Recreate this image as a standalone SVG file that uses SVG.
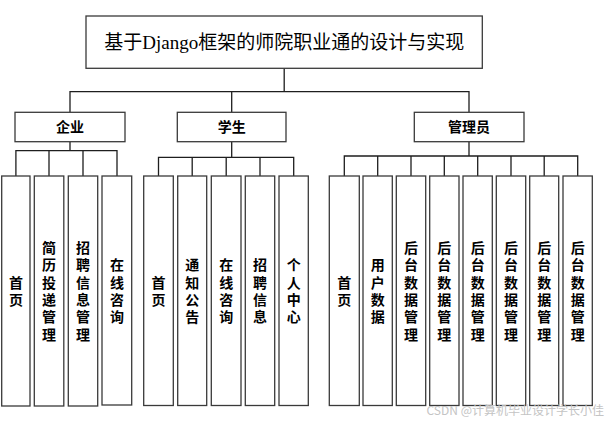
<svg xmlns="http://www.w3.org/2000/svg" width="609" height="423" viewBox="0 0 609 423">
<style>
  .box { fill: #ffffff; stroke: #3a3a3a; stroke-width: 1.3; }
  .conn { fill: none; stroke: #1e1e1e; stroke-width: 1.3; }
  .title { font-family: "Liberation Serif", "Noto Sans CJK SC", serif; font-size: 19px; fill: #000; text-anchor: middle; dominant-baseline: central; }
  .l2 { font-family: "Liberation Serif", "Noto Sans CJK SC", serif; font-size: 14px; font-weight: bold; fill: #000; text-anchor: middle; dominant-baseline: central; }
  .leaf { font-family: "Noto Sans CJK SC", sans-serif; font-size: 14px; font-weight: bold; fill: #000; text-anchor: middle; writing-mode: vertical-rl; letter-spacing: 3.3px; }
  .wm { font-family: "Noto Sans CJK SC", sans-serif; font-size: 12px; fill: #c4c4c4; text-anchor: end; }
</style>
<rect width="609" height="423" fill="#ffffff"/>

<g id="connectors">
  <path class="conn" d="M284.2 68.3 V91.7 M70 112.3 V91.7 H469 V112.3 M231.7 91.7 V112.3"/>
  <path class="conn" d="M70 141.7 V150.7 M15.9 176 V150.7 H117 V176 M49 150.7 V176 M83 150.7 V176"/>
  <path class="conn" d="M231.7 141.7 V157.3 M158.5 176 V157.3 H293.7 V176 M192.2 157.3 V176 M226.2 157.3 V176 M260 157.3 V176"/>
  <path class="conn" d="M469 141.7 V156 M344.3 176 V156 H577.7 V176 M377.7 156 V176 M411 156 V176 M444.3 156 V176 M477.7 156 V176 M511 156 V176 M544.2 156 V176"/>
</g>

<g id="root">
  <rect class="box" x="86" y="16" width="396.3" height="52.3"/>
  <text class="title" x="284.2" y="42.2">基于Django框架的师院职业通的设计与实现</text>
</g>

<g id="qiye">
  <rect class="box" x="15" y="112.3" width="110" height="29.4"/>
  <text class="l2" x="70" y="127">企业</text>
</g>
<g id="xuesheng">
  <rect class="box" x="177.3" y="112.3" width="108.7" height="29.4"/>
  <text class="l2" x="231.7" y="127">学生</text>
</g>
<g id="guanliyuan">
  <rect class="box" x="414.3" y="112.3" width="109.7" height="29.4"/>
  <text class="l2" x="469" y="127">管理员</text>
</g>

<!-- 企业 leaves -->
<g id="qy-shouye">
  <rect class="box" x="1.7" y="176" width="28.3" height="230"/>
  <text class="leaf" x="15.9" y="292.6">首页</text>
</g>
<g id="qy-jianli">
  <rect class="box" x="34.3" y="176" width="29.5" height="230"/>
  <text class="leaf" x="49" y="292.6">简历投递管理</text>
</g>
<g id="qy-zhaopin">
  <rect class="box" x="68.3" y="176" width="29.4" height="230"/>
  <text class="leaf" x="83" y="292.6">招聘信息管理</text>
</g>
<g id="qy-zixun">
  <rect class="box" x="102" y="176" width="29.7" height="229"/>
  <text class="leaf" x="117" y="292.6">在线咨询</text>
</g>

<!-- 学生 leaves -->
<g id="xs-shouye">
  <rect class="box" x="143.7" y="176" width="29.6" height="229.5"/>
  <text class="leaf" x="158.5" y="292.6">首页</text>
</g>
<g id="xs-tongzhi">
  <rect class="box" x="177.7" y="176" width="29" height="229.5"/>
  <text class="leaf" x="192.2" y="292.6">通知公告</text>
</g>
<g id="xs-zixun">
  <rect class="box" x="211.3" y="176" width="29.7" height="229.5"/>
  <text class="leaf" x="226.2" y="292.6">在线咨询</text>
</g>
<g id="xs-zhaopin">
  <rect class="box" x="245.3" y="176" width="29.4" height="229.5"/>
  <text class="leaf" x="260" y="292.6">招聘信息</text>
</g>
<g id="xs-geren">
  <rect class="box" x="279" y="176" width="29.3" height="229.5"/>
  <text class="leaf" x="293.7" y="292.6">个人中心</text>
</g>

<!-- 管理员 leaves -->
<g id="gl-shouye">
  <rect class="box" x="329.3" y="176" width="30" height="229.5"/>
  <text class="leaf" x="344.3" y="292.6">首页</text>
</g>
<g id="gl-yonghu">
  <rect class="box" x="363" y="176" width="29.3" height="229.5"/>
  <text class="leaf" x="377.7" y="292.6">用户数据</text>
</g>
<g id="gl-houtai1">
  <rect class="box" x="396.3" y="176" width="29.4" height="229.5"/>
  <text class="leaf" x="411" y="292.6">后台数据管理</text>
</g>
<g id="gl-houtai2">
  <rect class="box" x="429.7" y="176" width="29.3" height="229.5"/>
  <text class="leaf" x="444.3" y="292.6">后台数据管理</text>
</g>
<g id="gl-houtai3">
  <rect class="box" x="463" y="176" width="29.3" height="229.5"/>
  <text class="leaf" x="477.7" y="292.6">后台数据管理</text>
</g>
<g id="gl-houtai4">
  <rect class="box" x="496.3" y="176" width="29.4" height="229.5"/>
  <text class="leaf" x="511" y="292.6">后台数据管理</text>
</g>
<g id="gl-houtai5">
  <rect class="box" x="529.7" y="176" width="29" height="229.5"/>
  <text class="leaf" x="544.2" y="292.6">后台数据管理</text>
</g>
<g id="gl-houtai6">
  <rect class="box" x="563" y="176" width="29.3" height="229.5"/>
  <text class="leaf" x="577.7" y="292.6">后台数据管理</text>
</g>

<text class="wm" x="604" y="415">CSDN @计算机毕业设计学长小佳</text>
</svg>
